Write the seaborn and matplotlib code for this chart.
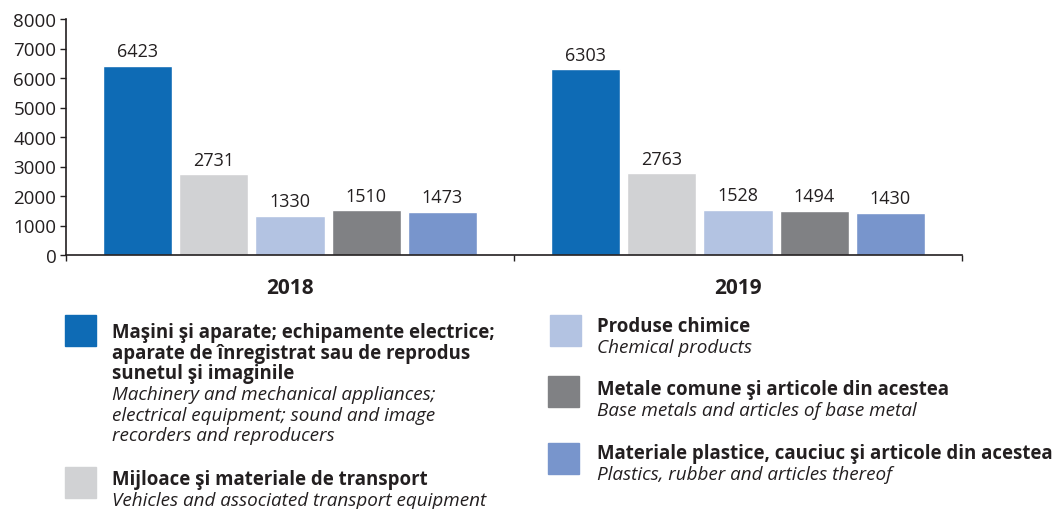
import pandas as pd
import seaborn as sns
import matplotlib.pyplot as plt
from matplotlib.patches import Rectangle

# date
years = ['2018', '2019']
categories = ['Masini', 'Transport', 'Chimice', 'Metale', 'Plastice']
values_2018 = [6423, 2731, 1330, 1510, 1473]
values_2019 = [6303, 2763, 1528, 1494, 1430]
culori = ['#0e6bb5', '#d1d2d4', '#b3c3e2', '#808184', '#7895cc']

legend_bold = [
    ['Maşini şi aparate; echipamente electrice;',
     'aparate de înregistrat sau de reprodus',
     'sunetul şi imaginile'],
    ['Mijloace şi materiale de transport'],
    ['Produse chimice'],
    ['Metale comune şi articole din acestea'],
    ['Materiale plastice, cauciuc şi articole din acestea'],
]
legend_italic = [
    ['Machinery and mechanical appliances;',
     'electrical equipment; sound and image',
     'recorders and reproducers'],
    ['Vehicles and associated transport equipment'],
    ['Chemical products'],
    ['Base metals and articles of base metal'],
    ['Plastics, rubber and articles thereof'],
]

df = pd.DataFrame({
    'an': [y for y in years for _ in categories],
    'categorie': categories * 2,
    'valoare': values_2018 + values_2019,
})

sns.set_style('white')
plt.rcParams['font.family'] = ['Open Sans', 'DejaVu Sans']
text_color = '#231f20'

W, H = 1054, 510
fig = plt.figure(figsize=(W / 100, H / 100), dpi=100)
ax = fig.add_axes([66 / W, 1 - 256 / H, (962 - 66) / W, (256 - 20) / H])

sns.barplot(data=df, x='an', y='valoare', hue='categorie', palette=culori,
            width=0.85, gap=0.09, saturation=1, legend=False, ax=ax)

for cont in ax.containers:
    ax.bar_label(cont, fmt='%d', padding=4, fontsize=13, color=text_color)

ax.set_ylim(0, 8000)
ax.set_xlim(-0.5, 1.5)
ax.set_yticks(range(0, 8001, 1000))
ax.set_xlabel('')
ax.set_ylabel('')
ax.tick_params(axis='y', length=4, width=1, color=text_color, labelsize=13.5,
               labelcolor=text_color, pad=3, left=True)
ax.tick_params(axis='x', length=0, pad=16, labelsize=15, labelcolor=text_color)
for lbl in ax.get_xticklabels():
    lbl.set_fontweight('bold')
ax.set_xticks([-0.5, 0.5, 1.5], minor=True)
ax.tick_params(axis='x', which='minor', length=4, width=1, color=text_color, bottom=True)
sns.despine(ax=ax)
for s in ['left', 'bottom']:
    ax.spines[s].set_color(text_color)
    ax.spines[s].set_linewidth(1.2)

# legenda facuta manual: (x patrat, y patrat, x text, baseline primul rand)
pozitii = [(65, 316, 112, 338), (65, 468, 112, 485), (550, 316, 597, 332),
           (548, 377, 597, 395), (548, 444, 597, 459)]
step = 20.7
for i, (sx, sy, tx, ty) in enumerate(pozitii):
    fig.patches.append(Rectangle((sx / W, 1 - (sy + 31) / H), 31 / W, 31 / H,
                                 transform=fig.transFigure, color=culori[i]))
    y = ty
    for line in legend_bold[i]:
        fig.text(tx / W, 1 - y / H, line, fontsize=13.4, fontweight='bold',
                 color=text_color, va='baseline')
        y += step
    for line in legend_italic[i]:
        fig.text(tx / W, 1 - y / H, line, fontsize=13.6, fontstyle='italic',
                 color=text_color, va='baseline')
        y += step

fig.savefig('out.png', dpi=100)
